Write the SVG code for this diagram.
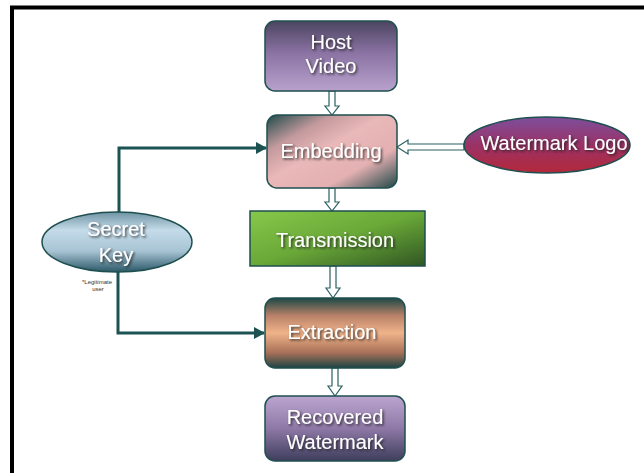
<svg xmlns="http://www.w3.org/2000/svg" width="644" height="473" viewBox="0 0 644 473">
<defs>
<style>
.lbl{font-family:"Liberation Sans",Arial,sans-serif;font-size:20px;fill:#ffffff;text-anchor:middle;filter:url(#sh)}
.note{font-family:"Liberation Sans",Arial,sans-serif;font-size:6px;fill:#333333;text-anchor:middle}
.box{stroke:#1f4f4f;stroke-width:1.5}
.conn{fill:none;stroke:#1d5252;stroke-width:3}
.hollow{fill:#ffffff;stroke:#2a6060;stroke-width:1.2}
</style>
<filter id="sh" x="-20%" y="-40%" width="140%" height="180%">
<feDropShadow dx="1.5" dy="1.5" stdDeviation="1" flood-color="#222222" flood-opacity="0.85"/>
</filter>
<marker id="ah" markerUnits="userSpaceOnUse" markerWidth="12" markerHeight="14" refX="10" refY="7" orient="auto">
<path d="M0,1 L11,7 L0,13 Z" fill="#1d5252"/>
</marker>
<linearGradient id="gHost" x1="0" y1="0" x2="0" y2="1">
<stop offset="0" stop-color="#4b4560"/>
<stop offset="0.45" stop-color="#8a72a2"/>
<stop offset="1" stop-color="#b8a2cc"/>
</linearGradient>
<linearGradient id="gEmb" x1="0" y1="0" x2="1" y2="1">
<stop offset="0" stop-color="#1f4a4a"/>
<stop offset="0.25" stop-color="#c49a9e"/>
<stop offset="0.45" stop-color="#e9b8b8"/>
<stop offset="0.72" stop-color="#e4b0b2"/>
<stop offset="1" stop-color="#1e4646"/>
</linearGradient>
<linearGradient id="gLogo" x1="0" y1="0" x2="0" y2="1">
<stop offset="0" stop-color="#7d4f9c"/>
<stop offset="0.5" stop-color="#9a3266"/>
<stop offset="1" stop-color="#b4283a"/>
</linearGradient>
<linearGradient id="gKey" x1="0" y1="0" x2="0" y2="1">
<stop offset="0" stop-color="#6f93a3"/>
<stop offset="0.3" stop-color="#c4dbe9"/>
<stop offset="0.65" stop-color="#a8c4d4"/>
<stop offset="1" stop-color="#2a5868"/>
</linearGradient>
<linearGradient id="gTrans" x1="0" y1="0" x2="1" y2="1">
<stop offset="0" stop-color="#86c84a"/>
<stop offset="0.5" stop-color="#6aa838"/>
<stop offset="1" stop-color="#2f5622"/>
</linearGradient>
<linearGradient id="gExt" x1="0" y1="0" x2="0" y2="1">
<stop offset="0" stop-color="#1c4846"/>
<stop offset="0.25" stop-color="#b88068"/>
<stop offset="0.5" stop-color="#f0b48a"/>
<stop offset="0.78" stop-color="#a87058"/>
<stop offset="1" stop-color="#1c4442"/>
</linearGradient>
<linearGradient id="gRec" x1="0" y1="0" x2="0" y2="1">
<stop offset="0" stop-color="#bca6d0"/>
<stop offset="0.5" stop-color="#8e78a6"/>
<stop offset="1" stop-color="#3e3e5c"/>
</linearGradient>
</defs>
<rect x="0" y="0" width="644" height="473" fill="#ffffff"/>
<g id="frame">
<path d="M12,473 V7.5 H644" fill="none" stroke="#000000" stroke-width="4"/>
</g>
<g id="connectors">
<path class="conn" d="M119,212 V148 H266" marker-end="url(#ah)"/>
<path class="conn" d="M118,272 V333 H264" marker-end="url(#ah)"/>
<path class="hollow" d="M329,91 H335 V106 H339 L332,115 L325,106 H329 Z"/>
<path class="hollow" d="M329,188 H335 V202 H339 L332,211 L325,202 H329 Z"/>
<path class="hollow" d="M330,266 H336 V288 H340 L333,298 L326,288 H330 Z"/>
<path class="hollow" d="M332,368 H338 V386 H342 L335,396 L328,386 H332 Z"/>
<path class="hollow" d="M464,144 V150 H408 V154 L397,147 L408,140 V144 Z"/>
</g>
<g id="host-video">
<rect class="box" x="265" y="21" width="132" height="70" rx="10" fill="url(#gHost)"/>
<text class="lbl" x="331" y="49">Host</text>
<text class="lbl" x="331" y="73">Video</text>
</g>
<g id="embedding">
<rect class="box" x="267" y="115" width="130" height="73" rx="10" fill="url(#gEmb)"/>
<text class="lbl" x="331" y="158">Embedding</text>
</g>
<g id="watermark-logo">
<ellipse class="box" cx="547" cy="145" rx="83" ry="28" fill="url(#gLogo)"/>
<text class="lbl" x="554" y="150">Watermark Logo</text>
</g>
<g id="secret-key">
<ellipse class="box" cx="117" cy="242" rx="75" ry="30" fill="url(#gKey)"/>
<text class="lbl" x="116" y="236">Secret</text>
<text class="lbl" x="116" y="262">Key</text>
<text class="note" x="97" y="284">*Legitimate</text>
<text class="note" x="98" y="291">user</text>
</g>
<g id="transmission">
<rect class="box" x="250" y="211" width="175" height="55" fill="url(#gTrans)"/>
<text class="lbl" x="335" y="247">Transmission</text>
</g>
<g id="extraction">
<rect class="box" x="265" y="298" width="140" height="70" rx="10" fill="url(#gExt)"/>
<text class="lbl" x="332" y="339">Extraction</text>
</g>
<g id="recovered-watermark">
<rect class="box" x="265" y="396" width="140" height="65" rx="10" fill="url(#gRec)"/>
<text class="lbl" x="335" y="424">Recovered</text>
<text class="lbl" x="335" y="449">Watermark</text>
</g>
</svg>
